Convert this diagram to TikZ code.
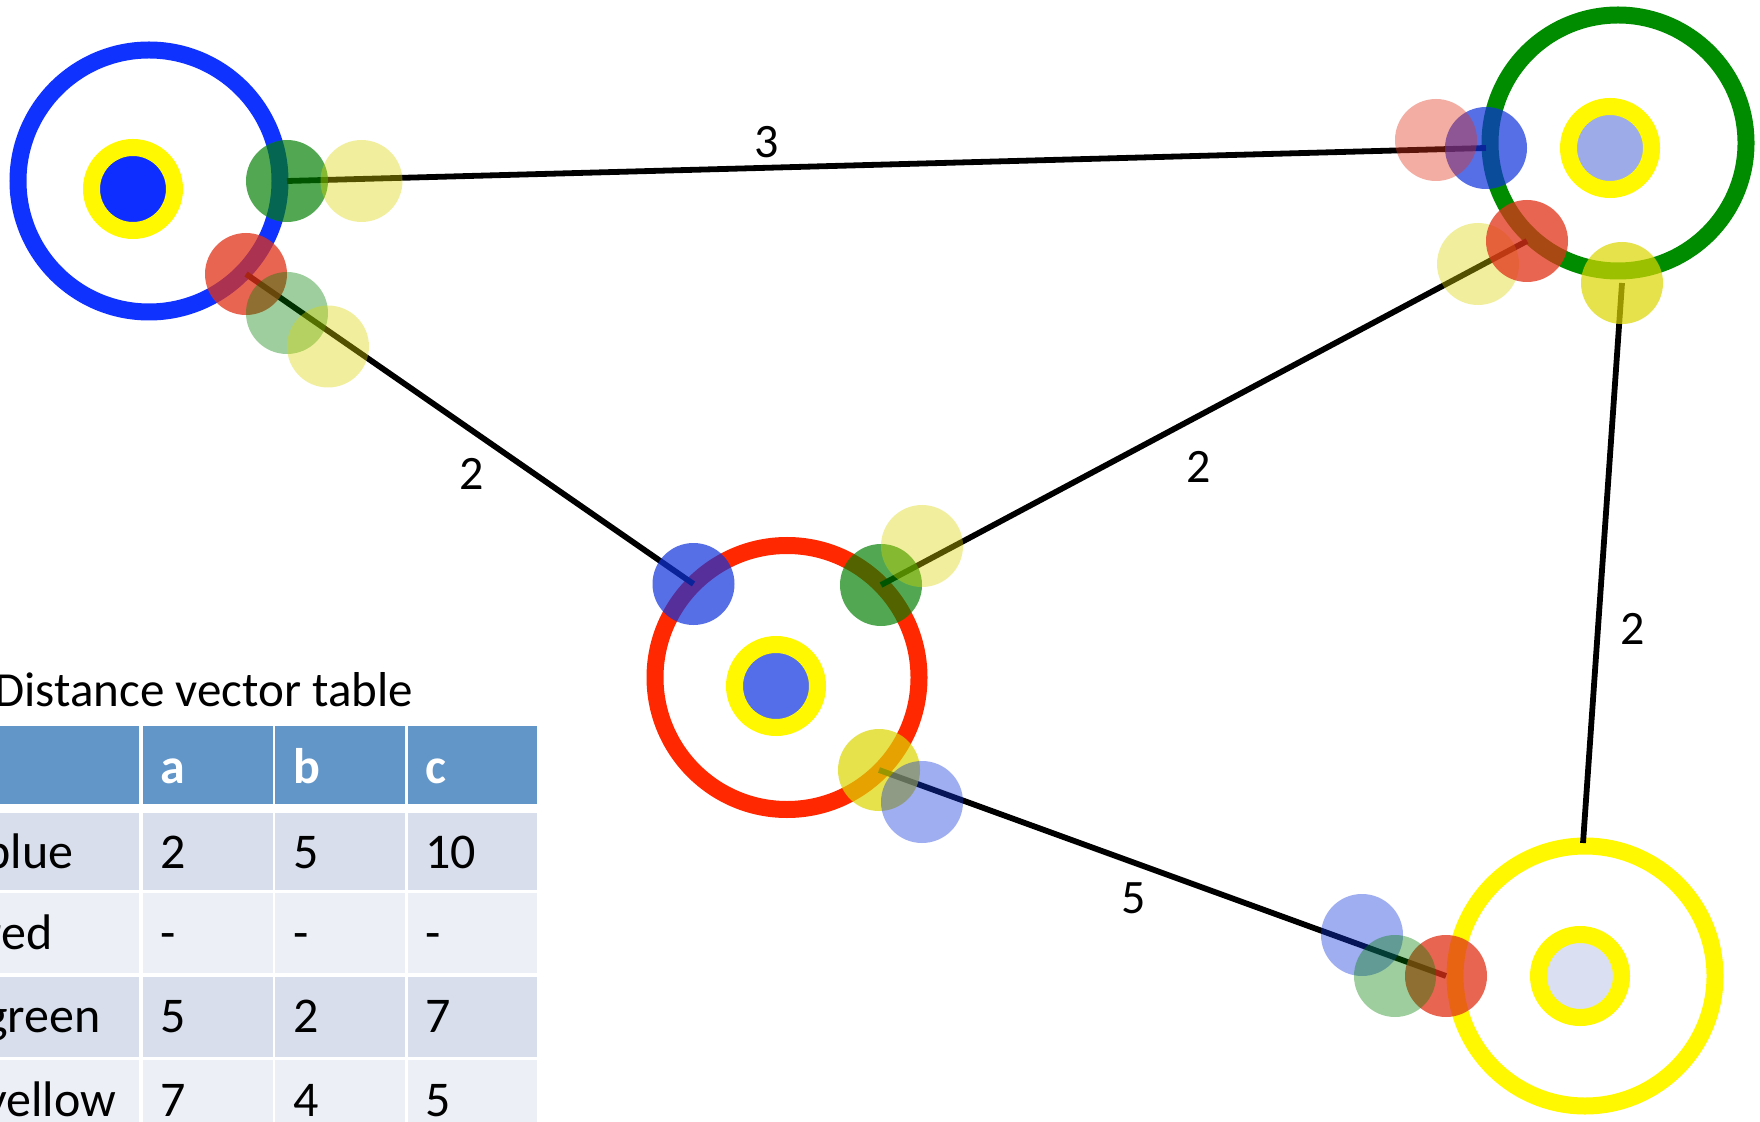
\documentclass[tikz,border=0pt]{standalone}
\usepackage{fontspec}
\setmainfont{Carlito}
\definecolor{cblue}{RGB}{16,50,255}
\definecolor{cgreen}{RGB}{0,140,0}
\definecolor{cred}{RGB}{255,40,0}
\definecolor{cyel}{RGB}{255,248,0}
\definecolor{pblue}{RGB}{16,50,220}
\definecolor{pgreen}{RGB}{0,128,0}
\definecolor{pred}{RGB}{225,50,25}
\definecolor{pyel}{RGB}{220,215,0}
\definecolor{dA}{RGB}{13,46,255}
\definecolor{dB}{RGB}{83,110,232}
\definecolor{dC}{RGB}{157,172,232}
\definecolor{dD}{RGB}{218,224,242}
\definecolor{thead}{RGB}{98,150,201}
\definecolor{tdark}{RGB}{216,222,236}
\definecolor{tlight}{RGB}{236,240,246}
\tikzset{
  bigring/.style 2 args={circle, draw=#1, line width=8.5pt, minimum size=#2, inner sep=0pt},
  hub/.style={circle, draw=cyel, fill=#1, line width=8.5pt, minimum size=41.5pt, inner sep=0pt},
  port/.style 2 args={circle, inner sep=0pt, minimum size=41pt, fill=#1, fill opacity=#2},
  link/.style={draw=black, line width=2.9pt},
  elabel/.style={font=\fontsize{24}{28}\selectfont, inner sep=0pt},
  cell/.style={anchor=base west, inner sep=0pt, font=\fontsize{25}{30}\selectfont},
  hcell/.style={cell, text=white, font=\fontsize{25}{30}\selectfont\bfseries},
}
\begin{document}
\begin{tikzpicture}[x=0.5pt,y=-0.5pt]
\useasboundingbox (0,0) rectangle (1760,1122);
\clip (0,0) rectangle (1760,1122);
\fill[white] (0,0) rectangle (1760,1122);

% big rings
\node[bigring={cblue}{131pt}] (A) at (149,181) {};
\node[bigring={cgreen}{128pt}] (C) at (1618,143) {};
\node[bigring={cred}{132pt}] (B) at (787,677.5) {};
\node[bigring={cyel}{130pt}] (D) at (1585,976) {};

% hubs
\node[hub=dA] (hA) at (133,189) {};
\node[hub=dC] (hC) at (1610,148) {};
\node[hub=dB] (hB) at (776,686) {};
\node[hub=dD] (hD) at (1580,976) {};

% port positions
\coordinate (aG) at (287,181);
\coordinate (aY1) at (361.5,181);
\coordinate (aR) at (246,274);
\coordinate (aG2) at (287,313);
\coordinate (aY2) at (328,346.5);
\coordinate (cR1) at (1436,140);
\coordinate (cB) at (1486,148);
\coordinate (cY1) at (1478,264);
\coordinate (cR) at (1527,241);
\coordinate (cY) at (1622,283);
\coordinate (bB) at (693.5,584);
\coordinate (bG) at (881,585);
\coordinate (bY1) at (922,546);
\coordinate (bY) at (879,770);
\coordinate (bB2) at (922,802);
\coordinate (dB1) at (1362,935);
\coordinate (dG1) at (1395,976);
\coordinate (dR) at (1446,976);
\coordinate (dTop) at (1583,843);

% links
\draw[link] (aG) -- (cB);
\draw[link] (aR) -- (bB);
\draw[link] (bG) -- (cR);
\draw[link] (cY) -- (dTop);
\draw[link] (bY) -- (dR);

% edge labels
\node[elabel] (l1) at (766.5,142) {3};
\node[elabel] (l2) at (471.4,473.7) {2};
\node[elabel] (l3) at (1198.8,467) {2};
\node[elabel] (l4) at (1633,628.5) {2};
\node[elabel] (l5) at (1134,898) {5};

% ports near A
\node[port={pgreen}{0.68}] (pa1) at (aG) {};
\node[port={pred}{0.75}] (pa2) at (aR) {};
\node[port={pyel}{0.38}] (pa3) at (aY1) {};
\node[port={pgreen}{0.38}] (pa4) at (aG2) {};
\node[port={pyel}{0.38}] (pa5) at (aY2) {};
% ports near C
\node[port={pblue}{0.7}] (pc1) at (cB) {};
\node[port={pred}{0.4}] (pc2) at (cR1) {};
\node[port={pyel}{0.38}] (pc3) at (cY1) {};
\node[port={pred}{0.75}] (pc4) at (cR) {};
\node[port={pyel}{0.7}] (pc5) at (cY) {};
% ports near B
\node[port={pblue}{0.7}] (pb1) at (bB) {};
\node[port={pgreen}{0.68}] (pb2) at (bG) {};
\node[port={pyel}{0.38}] (pb3) at (bY1) {};
\node[port={pyel}{0.7}] (pb4) at (bY) {};
\node[port={pblue}{0.4}] (pb5) at (bB2) {};
% ports near D
\node[port={pred}{0.75}] (pd3) at (dR) {};
\node[port={pblue}{0.4}] (pd1) at (dB1) {};
\node[port={pgreen}{0.38}] (pd2) at (dG1) {};

% table
\node[anchor=base west, inner sep=0pt, font=\fontsize{24.5}{29}\selectfont] (title) at (-6,706.7) {Distance vector table};
\fill[thead] (-60,726) rectangle (139.3,804);
\fill[thead] (142.7,726) rectangle (272.7,804);
\fill[thead] (275,726) rectangle (405,804);
\fill[thead] (407.7,726) rectangle (537.3,804);
\foreach \ya/\yb/\c in {812.7/890/tdark, 892.7/973.3/tlight, 976.7/1056.7/tdark, 1060/1150/tlight}{
  \fill[\c] (-60,\ya) rectangle (139.3,\yb);
  \fill[\c] (142.7,\ya) rectangle (272.7,\yb);
  \fill[\c] (275,\ya) rectangle (405,\yb);
  \fill[\c] (407.7,\ya) rectangle (537.3,\yb);
}
\node[hcell] (ha) at (160,783.3) {a};
\node[hcell] (hb) at (293,783.3) {b};
\node[hcell] (hc) at (425,783.3) {c};

\node[cell] (r1) at (-16,868.3) {blue};
\node[cell] (r1a) at (160,868.3) {2};
\node[cell] (r1b) at (293,868.3) {5};
\node[cell] (r1c) at (425,868.3) {10};

\node[cell] (r2) at (-16,949.5) {red};
\node[cell] (r2a) at (160,949.5) {-};
\node[cell] (r2b) at (293,949.5) {-};
\node[cell] (r2c) at (425,949.5) {-};

\node[cell] (r3) at (-16,1032.5) {green};
\node[cell] (r3a) at (160,1032.5) {5};
\node[cell] (r3b) at (293,1032.5) {2};
\node[cell] (r3c) at (425,1032.5) {7};

\node[cell] (r4) at (-16,1116) {yellow};
\node[cell] (r4a) at (160,1116) {7};
\node[cell] (r4b) at (293,1116) {4};
\node[cell] (r4c) at (425,1116) {5};
\end{tikzpicture}
\end{document}
